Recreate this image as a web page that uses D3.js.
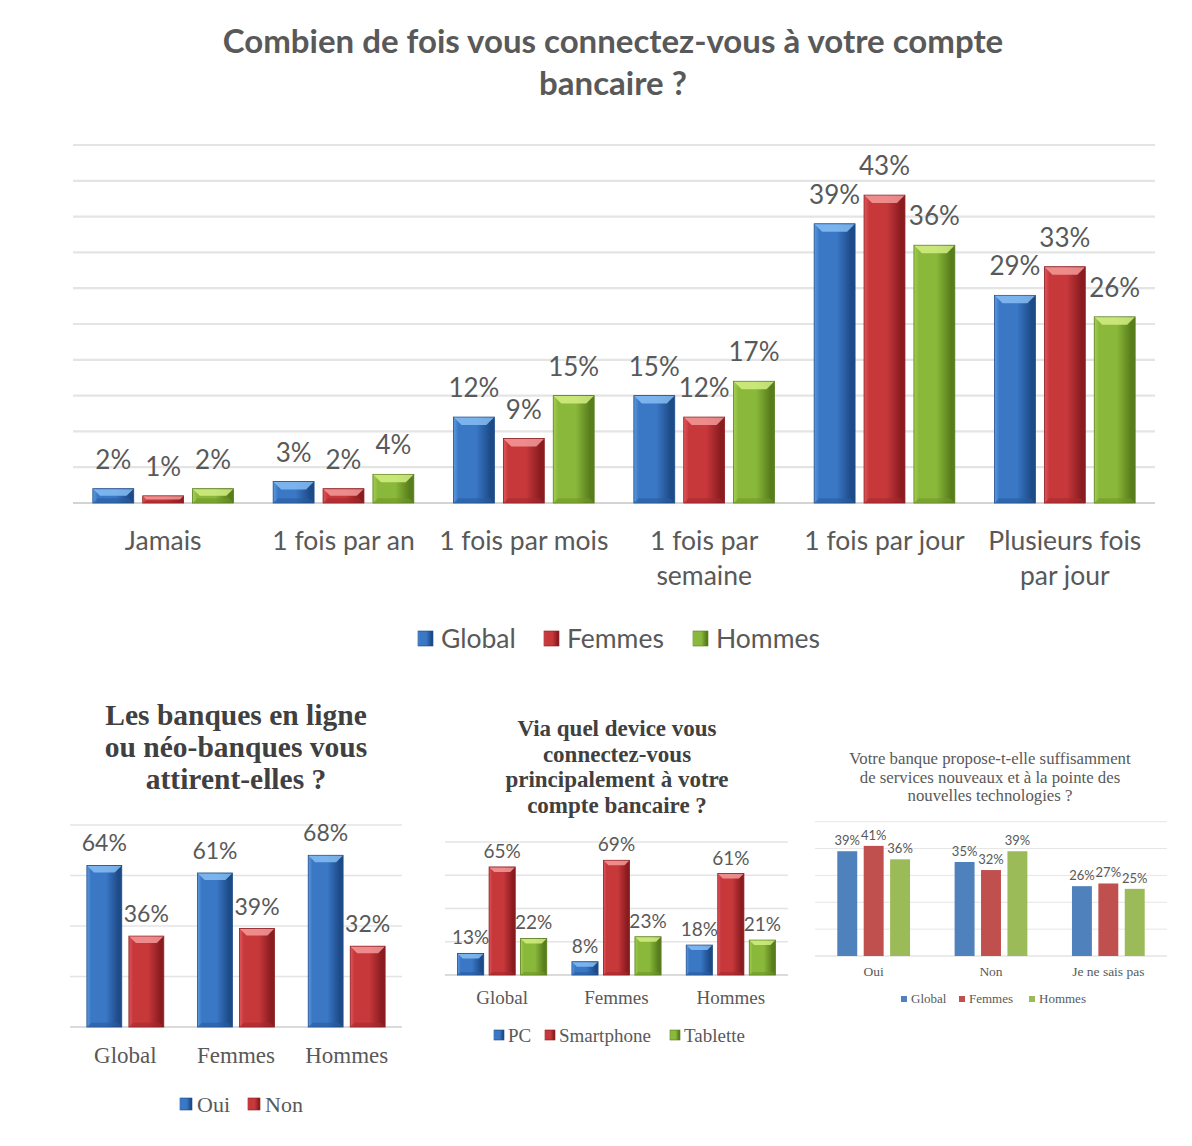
<!DOCTYPE html>
<html>
<head>
<meta charset="utf-8">
<script src="https://cdn.jsdelivr.net/npm/d3@7"></script>
<style>
  html, body { margin: 0; padding: 0; background: #fff; }
  svg { display: block; }
</style>
</head>
<body>
<svg id="chart" width="1192" height="1146"></svg>
<script>
/* ── data ─────────────────────────────────────────────── */

// Chart 1 : fréquence de connexion
const freqCategories = ['Jamais', '1 fois par an', '1 fois par mois', '1 fois par\nsemaine', '1 fois par jour', 'Plusieurs fois\npar jour'];
const freqGlobal = [2, 3, 12, 15, 39, 29];
const freqFemmes = [1, 2, 9, 12, 43, 33];
const freqHommes = [2, 4, 15, 17, 36, 26];

// Chart 2 : attrait des banques en ligne
const attraitGroups = ['Global', 'Femmes', 'Hommes'];
const attraitOui = [64, 61, 68];
const attraitNon = [36, 39, 32];

// Chart 3 : device principal
const deviceGroups = ['Global', 'Femmes', 'Hommes'];
const devicePC = [13, 8, 18];
const deviceSmartphone = [65, 69, 61];
const deviceTablette = [22, 23, 21];

// Chart 4 : services nouveaux
const innovCategories = ['Oui', 'Non', 'Je ne sais pas'];
const innovGlobal = [39, 35, 26];
const innovFemmes = [41, 32, 27];
const innovHommes = [36, 39, 25];

/* ── styles ───────────────────────────────────────────── */

const SANS  = 'Lato, "Open Sans", sans-serif';
const SERIF = '"Liberation Serif", "DejaVu Serif", serif';
const GREY  = '#595959';

const glossy = {
  blue:  { base: '#3a77c5', light: '#5c9ae0', dark: '#1d4b88', bevel: '#86bdf3', foot: '#2a5c9e' },
  red:   { base: '#c7383b', light: '#e0575b', dark: '#8a1c20', bevel: '#f59a9a', foot: '#a32a2d' },
  green: { base: '#8ab83a', light: '#a5cf50', dark: '#587d1c', bevel: '#d2ee84', foot: '#6f962a' }
};
const flat = { blue: '#4f81bd', red: '#c0504d', green: '#9bbb59' };

const svg = d3.select('#chart');
const defs = svg.append('defs');

Object.entries(glossy).forEach(([k, c]) => {
  const g = defs.append('linearGradient').attr('id', 'grad-' + k)
    .attr('x1', 0).attr('x2', 1).attr('y1', 0).attr('y2', 0);
  [[0, c.light], [0.12, c.base], [0.55, c.base], [0.9, c.dark], [1, c.dark]]
    .forEach(([o, col]) => g.append('stop').attr('offset', o).attr('stop-color', col));
});

/* ── helpers ──────────────────────────────────────────── */

function multiline(sel, lines, x, y, lh) {
  lines.forEach((t, i) => sel.append('tspan').attr('x', x).attr('y', y + i * lh).text(t));
}

function groupedBars(o) {
  const g = svg.append('g');

  const x0 = d3.scaleBand().domain(o.cats).range(o.xRange)
    .paddingInner(o.groupPad).paddingOuter(o.groupPad / 2);
  const x1 = d3.scaleBand().domain(o.series.map(s => s.name)).range([0, x0.bandwidth()])
    .paddingInner(o.barPad).paddingOuter(0);
  const y = d3.scaleLinear().domain([0, o.yMax]).range(o.yRange);

  // Gridlines
  g.selectAll('.grid')
    .data(d3.range(0, o.yMax + 0.01, o.tick))
    .join('line')
    .attr('x1', o.xRange[0]).attr('x2', o.xRange[1])
    .attr('y1', d => y(d)).attr('y2', d => y(d))
    .attr('stroke', d => d === 0 ? o.baseColor : o.gridColor)
    .attr('stroke-width', o.gridWidth);

  const rows = o.cats.map((c, i) => o.series.map(s => ({ cat: c, name: s.name, v: s.values[i], s })));

  const groups = g.selectAll('.grp').data(rows).join('g')
    .attr('transform', (d, i) => `translate(${x0(o.cats[i])},0)`);

  const bars = groups.selectAll('.bar').data(d => d).join('g');

  bars.append('rect')
    .attr('x', d => x1(d.name))
    .attr('y', d => y(d.v))
    .attr('width', x1.bandwidth())
    .attr('height', d => y(0) - y(d.v))
    .attr('fill', d => o.glossy ? `url(#grad-${d.s.key})` : flat[d.s.key])
    .attr('stroke', d => o.glossy ? glossy[d.s.key].dark : 'none')
    .attr('stroke-width', 0.8);

  if (o.glossy) {
    const bev = o.bevel;
    // top bevel
    bars.append('polygon')
      .attr('points', d => {
        const xa = x1(d.name), xb = xa + x1.bandwidth(), yt = y(d.v);
        const h = Math.min(bev, (y(0) - yt) / 2);
        return [[xa + 0.5, yt + 0.5], [xb - 0.5, yt + 0.5], [xb - h, yt + h], [xa + h, yt + h]].join(' ');
      })
      .attr('fill', d => glossy[d.s.key].bevel)
      .attr('opacity', 0.85);
    // bottom bevel
    bars.append('polygon')
      .attr('points', d => {
        const xa = x1(d.name), xb = xa + x1.bandwidth(), yb = y(0);
        const h = Math.min(bev * 0.6, (yb - y(d.v)) / 3);
        return [[xa + 0.5, yb - 0.5], [xb - 0.5, yb - 0.5], [xb - h, yb - h], [xa + h, yb - h]].join(' ');
      })
      .attr('fill', d => glossy[d.s.key].foot)
      .attr('opacity', 0.6);
  }

  // Value labels
  bars.append('text')
    .attr('x', d => x1(d.name) + x1.bandwidth() / 2)
    .attr('y', d => y(d.v) - o.labelGap)
    .attr('text-anchor', 'middle')
    .attr('font-family', SANS)
    .attr('font-size', o.labelSize)
    .attr('fill', GREY)
    .text(d => d.v + '%');

  // Category labels
  o.cats.forEach(c => {
    const t = g.append('text')
      .attr('text-anchor', 'middle')
      .attr('font-family', o.catFont)
      .attr('font-size', o.catSize)
      .attr('fill', GREY);
    multiline(t, c.split('\n'), x0(c) + x0.bandwidth() / 2, o.catY, o.catLh || o.catSize * 1.4);
  });

  return g;
}

function legend(items, o) {
  const g = svg.append('g');
  items.forEach((it, i) => {
    g.append('rect')
      .attr('x', o.xs[i]).attr('y', o.y - o.box + o.boxDrop)
      .attr('width', o.box).attr('height', o.box)
      .attr('fill', o.glossy ? `url(#grad-${it.key})` : flat[it.key])
      .attr('stroke', o.glossy ? glossy[it.key].dark : 'none')
      .attr('stroke-width', 0.6);
    g.append('text')
      .attr('x', o.xs[i] + o.box + o.gap).attr('y', o.y)
      .attr('font-family', o.font).attr('font-size', o.size)
      .attr('fill', GREY)
      .text(it.name);
  });
}

function title(lines, o) {
  const t = svg.append('text')
    .attr('text-anchor', 'middle')
    .attr('font-family', o.font)
    .attr('font-weight', o.weight)
    .attr('font-size', o.size)
    .attr('fill', o.color);
  multiline(t, lines, o.x, o.y, o.lh);
}

/* ── chart 1 ──────────────────────────────────────────── */

title(['Combien de fois vous connectez-vous à votre compte', 'bancaire ?'],
  { font: SANS, weight: 700, size: 33, color: GREY, x: 613, y: 53, lh: 42 });

const freqSeries = [
  { name: 'Global', key: 'blue',  values: freqGlobal },
  { name: 'Femmes', key: 'red',   values: freqFemmes },
  { name: 'Hommes', key: 'green', values: freqHommes }
];

groupedBars({
  cats: freqCategories, series: freqSeries,
  xRange: [73, 1155], groupPad: 0.22, barPad: 0.18,
  yMax: 50, tick: 5, yRange: [503, 145],
  gridColor: '#e4e4e4', baseColor: '#d4d4d4', gridWidth: 2.2,
  glossy: true, bevel: 8,
  labelSize: 26, labelGap: 20,
  catFont: SANS, catSize: 26.5, catY: 550, catLh: 35
});

legend(freqSeries, { xs: [418, 544, 693], y: 648, box: 15, boxDrop: -2, gap: 8, font: SANS, size: 26.5, glossy: true });

/* ── chart 2 ──────────────────────────────────────────── */

title(['Les banques en ligne', 'ou néo-banques vous', 'attirent-elles ?'],
  { font: SERIF, weight: 700, size: 29.5, color: '#404040', x: 236, y: 725, lh: 32 });

const attraitSeries = [
  { name: 'Oui', key: 'blue', values: attraitOui },
  { name: 'Non', key: 'red',  values: attraitNon }
];

groupedBars({
  cats: attraitGroups, series: attraitSeries,
  xRange: [70, 402], groupPad: 0.305, barPad: 0.17,
  yMax: 80, tick: 20, yRange: [1027, 825],
  gridColor: '#e4e4e4', baseColor: '#cfcfcf', gridWidth: 1.6,
  glossy: true, bevel: 7,
  labelSize: 23, labelGap: 14,
  catFont: SERIF, catSize: 23, catY: 1063
});

legend(attraitSeries, { xs: [180, 248], y: 1112, box: 12, boxDrop: -2, gap: 5, font: SERIF, size: 22, glossy: true });

/* ── chart 3 ──────────────────────────────────────────── */

title(['Via quel device vous', 'connectez-vous', 'principalement à votre', 'compte bancaire ?'],
  { font: SERIF, weight: 700, size: 23, color: '#404040', x: 617, y: 736, lh: 25.5 });

const deviceSeries = [
  { name: 'PC',         key: 'blue',  values: devicePC },
  { name: 'Smartphone', key: 'red',   values: deviceSmartphone },
  { name: 'Tablette',   key: 'green', values: deviceTablette }
];

groupedBars({
  cats: deviceGroups, series: deviceSeries,
  xRange: [445, 788], groupPad: 0.22, barPad: 0.17,
  yMax: 80, tick: 20, yRange: [975, 842],
  gridColor: '#e4e4e4', baseColor: '#cfcfcf', gridWidth: 1.4,
  glossy: true, bevel: 5,
  labelSize: 19, labelGap: 9,
  catFont: SERIF, catSize: 19, catY: 1004
});

legend(deviceSeries, { xs: [494, 545, 670], y: 1042, box: 10, boxDrop: -2, gap: 4, font: SERIF, size: 19, glossy: true });

/* ── chart 4 ──────────────────────────────────────────── */

title(['Votre banque propose-t-elle suffisamment', 'de services nouveaux et à la pointe des', 'nouvelles technologies ?'],
  { font: SERIF, weight: 400, size: 16.8, color: GREY, x: 990, y: 764, lh: 18.5 });

const innovSeries = [
  { name: 'Global', key: 'blue',  values: innovGlobal },
  { name: 'Femmes', key: 'red',   values: innovFemmes },
  { name: 'Hommes', key: 'green', values: innovHommes }
];

groupedBars({
  cats: innovCategories, series: innovSeries,
  xRange: [815, 1167], groupPad: 0.38, barPad: 0.245,
  yMax: 50, tick: 10, yRange: [956, 821.7],
  gridColor: '#e6e6e6', baseColor: '#d6d6d6', gridWidth: 1,
  glossy: false,
  labelSize: 13, labelGap: 6,
  catFont: SERIF, catSize: 13.5, catY: 976
});

legend(innovSeries, { xs: [901, 959, 1029], y: 1003, box: 6, boxDrop: -1, gap: 4, font: SERIF, size: 13, glossy: false });
</script>
</body>
</html>
